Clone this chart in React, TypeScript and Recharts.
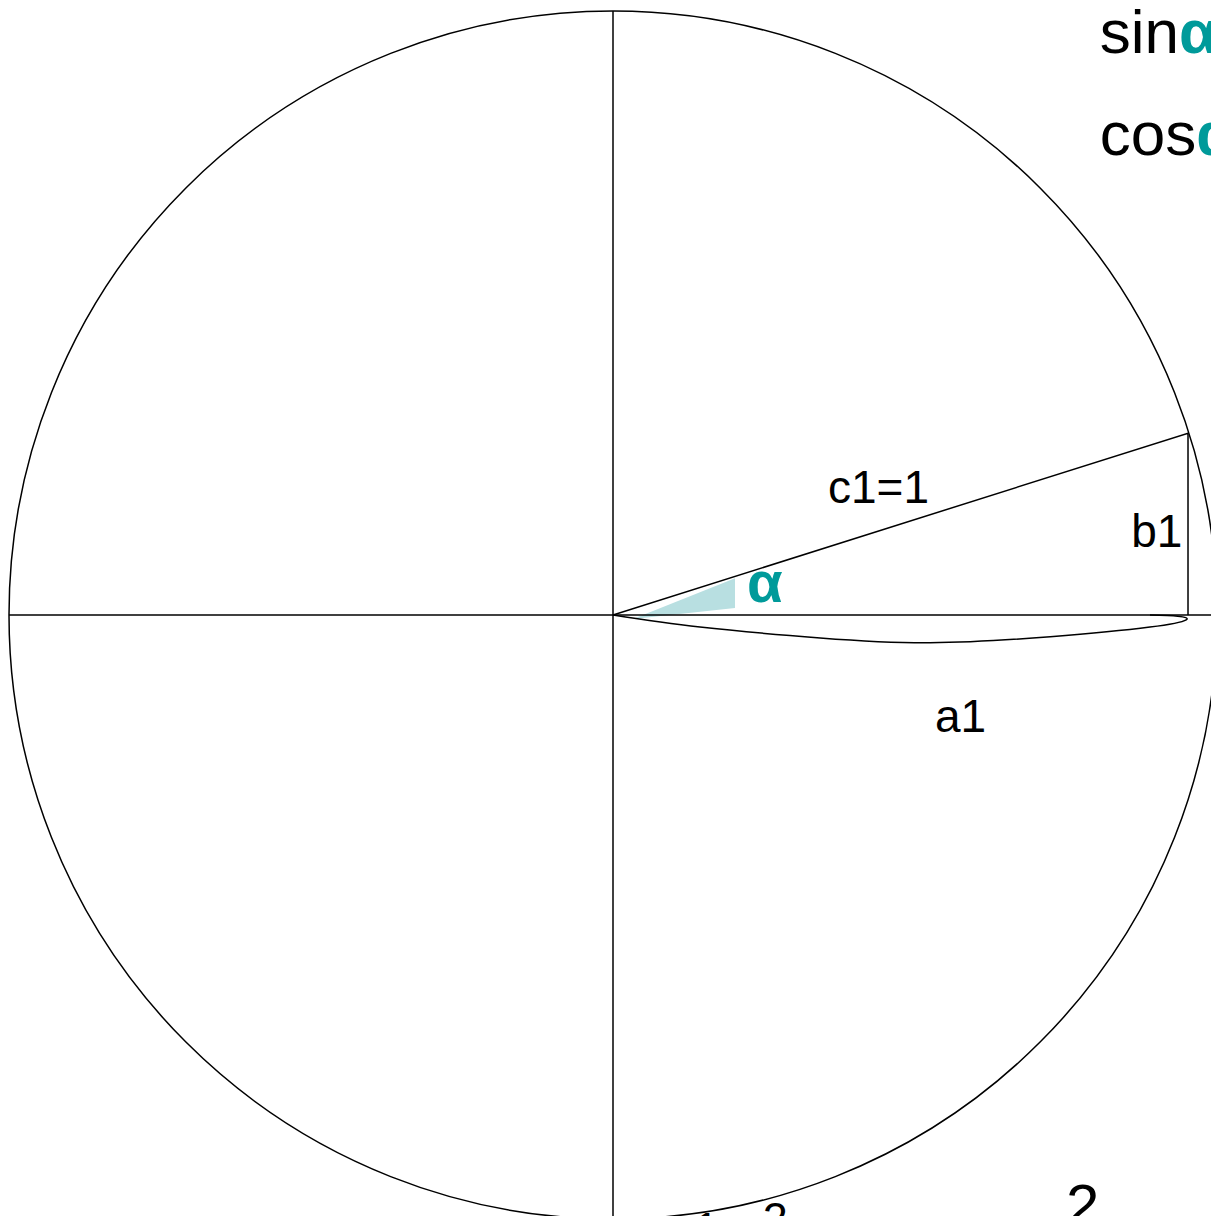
import { ComposedChart, XAxis, YAxis, Line, Area, ReferenceLine, ReferenceDot } from 'recharts';

// values, in units of the circle radius
const cosAlpha = 0.952;
const sinAlpha = 0.301;

const triangle = [
  { x: 0, y: 0 },
  { x: cosAlpha, y: sinAlpha },
  { x: cosAlpha, y: 0 },
];

// hand drawn brace under a1
const brace = [
  { x: 0, y: 0 },
  { x: 0.144, y: -0.02 },
  { x: 0.343, y: -0.038 },
  { x: 0.525, y: -0.046 },
  { x: 0.724, y: -0.036 },
  { x: 0.889, y: -0.02 },
  { x: 0.949, y: -0.008 },
  { x: 0.935, y: -0.002 },
  { x: 0.889, y: 0 },
];

// shaded angle wedge
const wedge = [
  { x: 0.033, band: [-0.0066, -0.0066] },
  { x: 0.202, band: [0.0116, 0.061] },
];

const TEAL = '#009a9a';
const FONT = '"Liberation Sans", Arial, sans-serif';

type Note = { x: number; y: number; text: string; greek?: string; size: number; bold?: boolean; color?: string };

const notes: Note[] = [
  { x: 0.356, y: 0.185, text: 'c1=1', size: 46 },
  { x: 0.858, y: 0.113, text: 'b1', size: 46 },
  { x: 0.533, y: -0.194, text: 'a1', size: 46 },
  { x: 0.222, y: 0.022, text: 'α', size: 58, bold: true, color: TEAL },
  { x: 0.806, y: 0.93, text: 'sin', greek: 'α', size: 62 },
  { x: 0.806, y: 0.762, text: 'cos', greek: 'α', size: 62 },
  { x: 0.75, y: -1.012, text: '2', size: 60 },
  { x: 0.248, y: -1.025, text: '2', size: 45 },
  { x: 0.134, y: -1.041, text: '1', size: 45 },
];

const CW = 1230;
const CH = 1232;
const PLOT = 1208;
const R = PLOT / 2;

export default function App() {
  return (
    <div style={{ position: 'absolute', left: 0, top: 0, width: 1211, height: 1216, overflow: 'hidden', background: '#fff' }}>
      <ComposedChart
        width={CW}
        height={CH}
        margin={{ left: 9, top: 11, right: CW - 9 - PLOT, bottom: CH - 11 - PLOT }}
      >
        <XAxis type="number" dataKey="x" domain={[-1, 1]} hide allowDataOverflow />
        <YAxis type="number" domain={[-1, 1]} hide allowDataOverflow />
        <ReferenceDot x={0} y={0} r={R} fill="none" stroke="#000" strokeWidth={1.5} ifOverflow="visible" />
        <ReferenceLine y={0} stroke="#000" strokeWidth={1.5} />
        <ReferenceLine x={0} stroke="#000" strokeWidth={1.5} />
        <Area
          data={wedge}
          dataKey="band"
          type="linear"
          stroke="none"
          fill="#b8dfe1"
          fillOpacity={1}
          isAnimationActive={false}
        />
        <Line
          data={triangle}
          dataKey="y"
          type="linear"
          stroke="#000"
          strokeWidth={1.5}
          dot={false}
          isAnimationActive={false}
        />
        <Line
          data={brace}
          dataKey="y"
          type="natural"
          stroke="#000"
          strokeWidth={1.5}
          dot={false}
          isAnimationActive={false}
        />
        {notes.map((n, i) => (
          <ReferenceDot
            key={i}
            x={n.x}
            y={n.y}
            r={0}
            ifOverflow="visible"
            shape={(p: any) => (
              <text
                x={p.cx}
                y={p.cy}
                fontFamily={FONT}
                fontSize={n.size}
                fontWeight={n.bold ? 700 : 400}
                fill={n.color || '#000'}
              >
                {n.text}
                {n.greek && (
                  <tspan fill={TEAL} fontWeight={700}>
                    {n.greek}
                  </tspan>
                )}
              </text>
            )}
          />
        ))}
      </ComposedChart>
    </div>
  );
}
